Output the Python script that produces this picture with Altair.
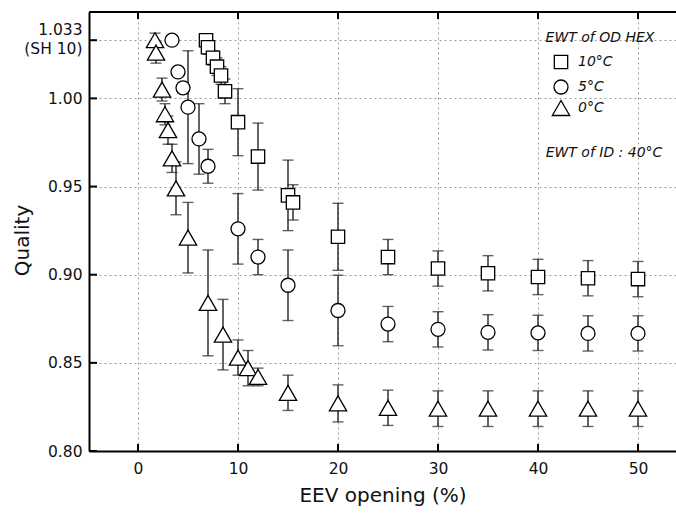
import altair as alt
import pandas as pd

# EEV opening (%) and refrigerant quality, by outdoor HEX entering water temperature
series_names = ["10°C", "5°C", "0°C"]
series_shapes = ["square", "circle", "triangle-up"]
series_sizes = [178, 196, 300]

sq_x = [6.8, 7.0, 7.5, 7.9, 8.3, 8.7, 10, 12, 15, 15.5, 20, 25, 30, 35, 40, 45, 50]
sq_q = [1.033, 1.029, 1.023, 1.018, 1.013, 1.004, 0.9865, 0.967, 0.945, 0.941, 0.9215,
        0.910, 0.9035, 0.9008, 0.8987, 0.898, 0.8975]
sq_e = [0.003, 0.004, 0.004, 0.005, 0.005, 0.007, 0.019, 0.019, 0.020, 0.010, 0.019,
        0.010, 0.010, 0.010, 0.010, 0.010, 0.010]

ci_x = [3.4, 4.0, 4.5, 5.0, 6.1, 7.0, 10, 12, 15, 20, 25, 30, 35, 40, 45, 50]
ci_q = [1.033, 1.015, 1.006, 0.995, 0.977, 0.9615, 0.926, 0.910, 0.894, 0.8797, 0.872,
        0.869, 0.8673, 0.867, 0.8667, 0.8667]
ci_e = [0.002, 0.002, 0.003, 0.032, 0.020, 0.0096, 0.020, 0.010, 0.020, 0.020, 0.010,
        0.010, 0.010, 0.010, 0.010, 0.010]

tr_x = [1.7, 1.8, 2.4, 2.7, 3.0, 3.4, 3.8, 5.0, 7.0, 8.5, 10, 11, 12, 15, 20, 25, 30,
        35, 40, 45, 50]
tr_q = [1.033, 1.026, 1.005, 0.991, 0.982, 0.966, 0.949, 0.921, 0.884, 0.866, 0.853,
        0.847, 0.842, 0.833, 0.827, 0.8245, 0.824, 0.824, 0.824, 0.824, 0.824]
tr_e = [0.004, 0.006, 0.0065, 0.006, 0.008, 0.008, 0.015, 0.020, 0.030, 0.020, 0.010,
        0.010, 0.005, 0.010, 0.0105, 0.010, 0.0101, 0.0101, 0.0101, 0.0101, 0.0101]

x_ticks = [0, 10, 20, 30, 40, 50]
y_ticks = [0.80, 0.85, 0.90, 0.95, 1.00, 1.033]

rows = []
for name, sz, xs_, qs_, es_ in zip(series_names, series_sizes, [sq_x, ci_x, tr_x],
                                   [sq_q, ci_q, tr_q], [sq_e, ci_e, tr_e]):
    for x, q, e in zip(xs_, qs_, es_):
        rows.append({"series": name, "sz": sz, "x": x, "q": q, "lo": q - e, "hi": q + e})
df = pd.DataFrame(rows)

W, H = 587, 439
FONT = "DejaVu Sans"

x_scale = alt.Scale(domain=[-4.9, 53.8], nice=False, zero=False)
y_scale = alt.Scale(domain=[0.80, 1.049], nice=False, zero=False)
shape_scale = alt.Scale(domain=series_names, range=series_shapes)

x_axis = alt.Axis(
    values=x_ticks, grid=True, gridDash=[2, 3], gridColor="#9a9a9a", gridWidth=1,
    ticks=False, domainColor="black", domainWidth=2, labelFontSize=15.5,
    labelPadding=10, labelColor="#111", title="EEV opening (%)", titleFontSize=20,
    titleFontWeight="normal", titleColor="#111", titlePadding=9, labelFont=FONT,
    titleFont=FONT,
)
y_axis = alt.Axis(
    values=y_ticks, grid=True, gridDash=[2, 3], gridColor="#9a9a9a", gridWidth=1,
    ticks=False, domainColor="black", domainWidth=2, labelFontSize=15.5,
    labelPadding=7, labelColor="#111", labelOverlap=False, labelBound=False,
    labelFlush=False, labelLineHeight=19,
    labelOffset=alt.condition("datum.value == 1.033", alt.value(-11), alt.value(0)),
    labelExpr="datum.value == 1.033 ? ['1.033', '(SH 10)'] : format(datum.value, '.2f')",
    title="Quality", titleFontSize=20, titleFontWeight="normal", titleColor="#111",
    titleX=-57, titleY=228, labelFont=FONT, titleFont=FONT,
)

base = alt.Chart(df)

bars = base.mark_rule(color="#222", strokeWidth=1.4).encode(
    x=alt.X("x:Q", scale=x_scale, axis=x_axis),
    y=alt.Y("lo:Q", scale=y_scale, axis=y_axis),
    y2="hi:Q",
)
cap_lo = base.mark_tick(orient="horizontal", size=11, thickness=1.4, color="#222").encode(
    x="x:Q", y="lo:Q"
)
cap_hi = base.mark_tick(orient="horizontal", size=11, thickness=1.4, color="#222").encode(
    x="x:Q", y="hi:Q"
)

# open markers, white-filled so they sit on top of their error bars
points = base.mark_point(filled=True, fill="white", stroke="black", strokeWidth=1.3,
                         opacity=1).encode(
    x="x:Q",
    y="q:Q",
    shape=alt.Shape("series:N", scale=shape_scale, legend=None),
    size=alt.Size("sz:Q", scale=None),
)

# key inside the plot area, upper right
key = pd.DataFrame({
    "series": series_names,
    "sz": series_sizes,
    "ky": [50, 75, 96],
})
key_symbols = alt.Chart(key).mark_point(
    filled=True, fill="white", stroke="black", strokeWidth=1.3, opacity=1
).encode(
    x=alt.value(472),
    y=alt.Y("ky:Q", scale=None, axis=None),
    shape=alt.Shape("series:N", scale=shape_scale, legend=None),
    size=alt.Size("sz:Q", scale=None),
)
key_labels = alt.Chart(key).mark_text(
    font=FONT, fontSize=14, fontStyle="italic", color="#111", align="left",
    baseline="middle",
).encode(
    text="series:N",
    x=alt.value(489),
    y=alt.Y("ky:Q", scale=None, axis=None),
)

# inward-pointing tick marks on the frame
xt = pd.DataFrame({"t": x_ticks})
yt = pd.DataFrame({"t": y_ticks})
ticks_bottom = alt.Chart(xt).mark_rule(color="black", strokeWidth=2).encode(
    x="t:Q", y=alt.value(H), y2=alt.value(H - 7)
)
ticks_top = alt.Chart(xt).mark_rule(color="black", strokeWidth=2).encode(
    x="t:Q", y=alt.value(0), y2=alt.value(7)
)
ticks_left = alt.Chart(yt).mark_rule(color="black", strokeWidth=2).encode(
    y="t:Q", x=alt.value(0), x2=alt.value(8)
)
top_line = alt.Chart(xt).mark_rule(color="black", strokeWidth=1.6).encode(
    x=alt.value(0), x2=alt.value(W), y=alt.value(0)
)

notes = pd.DataFrame({
    "label": ["EWT of OD HEX", "EWT of ID : 40°C"],
    "px": [511, 515],
    "py": [26, 141],
})
note_text = alt.Chart(notes).mark_text(
    font=FONT, fontSize=14, fontStyle="italic", color="#111", align="center",
    baseline="middle",
).encode(
    text="label:N",
    x=alt.X("px:Q", scale=None, axis=None),
    y=alt.Y("py:Q", scale=None, axis=None),
)

chart = alt.layer(
    bars, cap_lo, cap_hi, points, ticks_bottom, ticks_top, ticks_left, top_line,
    note_text, key_symbols, key_labels
).properties(
    width=W, height=H,
    autosize=alt.AutoSizeParams(type="none"),
    padding={"left": 89, "top": 12, "right": 0, "bottom": 66},
).configure_view(stroke=None).configure(font=FONT, background="white")

chart.save("out.html", embed_options={"renderer": "svg", "actions": False})
